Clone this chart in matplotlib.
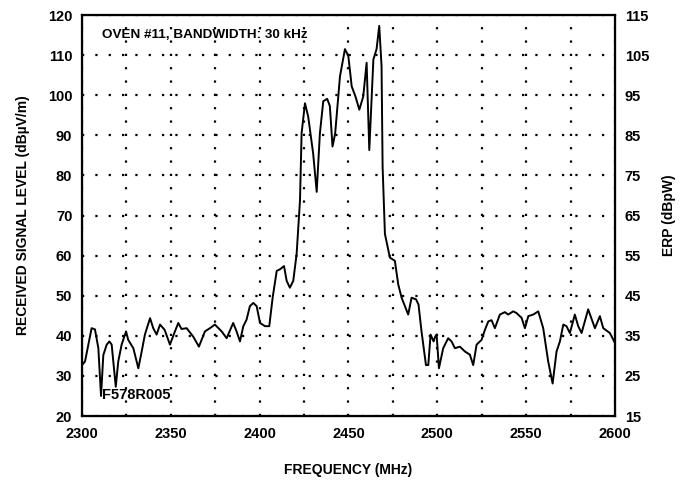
import matplotlib.pyplot as plt
from matplotlib import font_manager
from matplotlib.ticker import MultipleLocator

# pick a narrow sans if there is one, the scan uses a condensed bold face
installed = {f.name for f in font_manager.fontManager.ttflist}
for fam in ['Liberation Sans Narrow', 'DejaVu Sans Condensed', 'Liberation Sans']:
    if fam in installed:
        plt.rcParams['font.family'] = [fam, 'DejaVu Sans']
        break
plt.rcParams['font.weight'] = 'bold'
plt.rcParams['axes.labelweight'] = 'bold'

# spectrum trace (MHz, dBuV/m)
freq = [2300.0, 2301.7, 2305.4, 2307.3, 2309.2, 2310.7, 2312.0, 2313.9, 2315.4, 2316.7,
        2319.0, 2320.4, 2322.3, 2324.8, 2326.0, 2328.9, 2331.7, 2333.6, 2335.4, 2338.3,
        2340.1, 2342.0, 2343.9, 2346.5, 2349.5, 2352.3, 2354.2, 2356.0, 2358.9, 2362.6,
        2365.8, 2369.2, 2372.0, 2374.8, 2376.8, 2378.6, 2381.4, 2385.1, 2387.0, 2388.9,
        2390.8, 2392.6, 2394.5, 2396.4, 2398.3, 2400.2, 2403.0, 2405.4, 2407.3, 2409.6,
        2411.5, 2413.7, 2415.2, 2417.0, 2418.9, 2420.8, 2422.7, 2423.6, 2425.5, 2427.3,
        2430.1, 2432.1, 2433.9, 2435.8, 2438.0, 2439.5, 2441.0, 2442.5, 2445.2, 2448.0,
        2449.9, 2451.8, 2453.9, 2456.1, 2458.3, 2460.2, 2461.7, 2462.8, 2464.0, 2465.8,
        2467.3, 2468.6, 2469.2, 2470.5, 2473.3, 2476.1, 2478.0, 2479.9, 2483.6, 2485.5,
        2488.0, 2489.4, 2491.1, 2493.6, 2494.9, 2496.2, 2497.9, 2498.8, 2499.6, 2500.9,
        2503.3, 2506.1, 2508.0, 2509.9, 2512.7, 2515.5, 2518.3, 2520.2, 2522.1, 2524.9,
        2526.8, 2528.7, 2530.5, 2532.4, 2535.2, 2538.0, 2539.9, 2542.7, 2544.5, 2547.4,
        2549.3, 2551.2, 2554.0, 2556.8, 2559.6, 2562.4, 2564.9, 2567.1, 2569.0, 2570.9,
        2572.7, 2574.6, 2577.4, 2579.3, 2581.2, 2584.9, 2588.7, 2591.5, 2593.4, 2597.1,
        2600.0]
level = [32.7, 33.6, 41.9, 41.6, 36.9, 25.0, 35.2, 37.8, 38.6, 37.8,
         27.3, 33.6, 37.8, 41.1, 39.0, 36.9, 31.9, 36.1, 40.3, 44.4,
         41.9, 40.3, 42.8, 41.5, 37.8, 41.1, 43.2, 41.7, 41.9, 39.8,
         37.3, 41.1, 41.9, 42.8, 41.9, 41.1, 39.4, 43.2, 41.1, 38.6,
         42.4, 44.0, 47.4, 48.2, 47.4, 43.2, 42.4, 42.4, 49.5, 56.2,
         56.6, 57.4, 53.7, 52.0, 53.7, 60.4, 73.8, 90.5, 98.0, 94.7,
         85.5, 75.9, 90.5, 98.5, 99.1, 97.3, 87.2, 90.5, 104.7, 111.5,
         109.8, 102.2, 99.7, 96.4, 99.7, 108.1, 86.3, 97.0, 108.9, 111.5,
         117.3, 107.3, 82.1, 65.4, 59.5, 58.7, 52.8, 49.5, 45.3, 49.5,
         49.1, 47.8, 41.1, 32.7, 32.7, 40.3, 38.6, 39.8, 40.3, 31.9,
         36.9, 39.4, 38.6, 36.9, 37.3, 36.1, 35.3, 32.7, 37.8, 39.0,
         41.5, 43.6, 43.9, 41.9, 45.3, 45.9, 45.3, 46.1, 45.7, 44.5,
         41.9, 44.9, 45.3, 46.1, 41.9, 33.6, 28.1, 36.1, 38.6, 42.8,
         42.4, 40.7, 45.3, 42.4, 40.7, 46.6, 41.9, 44.9, 41.9, 40.7,
         38.2]

x_ticks = list(range(2300, 2601, 50))
left_ticks = list(range(20, 121, 10))
right_ticks = list(range(15, 116, 10))

fig = plt.figure(figsize=(6.8, 4.83), dpi=100)
ax = fig.add_axes([0.1206, 0.1387, 0.7838, 0.8302])

ax.plot(freq, level, color='black', linewidth=1.4)

ax.set_xlim(2300, 2600)
ax.set_ylim(20, 120)
ax.set_xticks(x_ticks)
ax.set_yticks(left_ticks)
ax.xaxis.set_minor_locator(MultipleLocator(25))
ax.tick_params(which='both', length=0, labelsize=10.5)
ax.tick_params(axis='x', pad=8)
ax.tick_params(axis='y', pad=7)
dots = (0, (1, 5))
ax.grid(which='both', axis='x', color='black', linestyle=dots, linewidth=1.6)
ax.grid(which='major', axis='y', color='black', linestyle=dots, linewidth=1.6)
for s in ax.spines.values():
    s.set_linewidth(1.6)

ax2 = ax.twinx()
ax2.set_ylim(15, 115)
ax2.set_yticks(right_ticks)
ax2.tick_params(length=0, labelsize=10.5, pad=7)

ax.set_xlabel('FREQUENCY (MHz)', fontsize=10, labelpad=16)
ax.set_ylabel('RECEIVED SIGNAL LEVEL (dB\u00b5V/m)', fontsize=10, labelpad=13)
ax2.set_ylabel('ERP (dBpW)', fontsize=10, labelpad=9)

ax.text(2311.5, 115.0, 'OVEN #11, BANDWIDTH: 30 kHz', fontsize=9.7, va='center', ha='left')
ax.text(2311.5, 25.2, 'F578R005', fontsize=10.5, va='center', ha='left')

fig.savefig('out.png', dpi=100)
